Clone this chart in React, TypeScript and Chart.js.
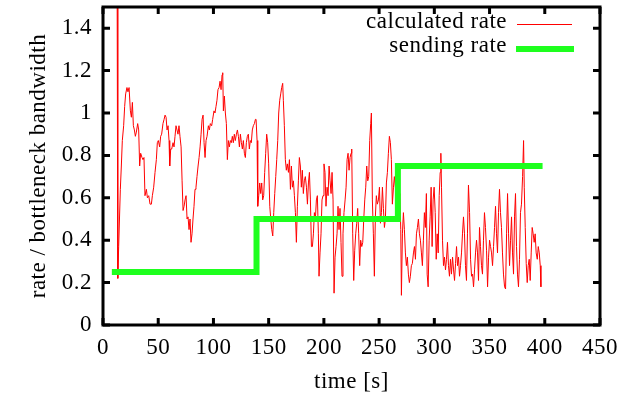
import React, { useEffect, useRef } from "react";
import { Chart, registerables } from "chart.js";

Chart.register(...registerables);

const calcTime: number[] = [
  12.8, 13.4, 14.2, 15.7, 16.6, 17.5, 18.7, 19.6, 20.5, 21.7, 22.6, 23.6, 24.8, 25.7, 26.6, 27.5, 28.4, 29.3, 30.2, 31.4,
  32.3, 33.2, 34.1, 35.3, 36.2, 37.1, 38.0, 39.3, 40.2, 41.4, 42.6, 43.8, 44.7, 45.9, 47.1, 48.3, 49.2, 50.1, 51.3, 52.2,
  53.1, 54.3, 55.3, 56.2, 57.1, 58.0, 58.9, 59.8, 60.4, 61.3, 62.2, 63.4, 64.3, 65.2, 66.1, 67.0, 67.9, 68.8, 69.7, 70.7,
  71.6, 72.5, 73.4, 74.3, 75.2, 76.1, 77.0, 77.9, 78.8, 79.7, 80.6, 81.5, 82.4, 83.3, 84.2, 85.1, 86.1, 87.0, 87.9, 88.8,
  89.7, 90.6, 91.5, 92.4, 93.3, 94.2, 95.4, 96.3, 97.2, 98.4, 99.3, 100.5, 101.4, 102.3, 103.2, 104.1, 105.1, 106.0, 106.9, 107.8,
  108.4, 109.0, 109.9, 110.8, 111.7, 112.6, 113.5, 114.4, 115.3, 116.2, 117.1, 118.0, 118.9, 119.8, 120.8, 121.7, 122.6, 123.5, 124.4, 125.3,
  126.2, 127.1, 128.0, 128.9, 129.8, 130.7, 131.6, 132.5, 133.4, 134.3, 135.2, 136.1, 137.1, 138.0, 138.6, 139.5, 140.1, 141.0, 141.9, 142.8,
  143.7, 144.6, 145.5, 146.4, 147.3, 148.2, 149.1, 150.0, 151.0, 151.9, 152.8, 153.7, 154.6, 155.5, 156.4, 157.3, 158.2, 159.1, 160.0, 160.9,
  161.8, 162.7, 163.3, 164.2, 165.1, 166.0, 166.9, 167.9, 168.8, 169.7, 170.6, 171.5, 172.4, 173.3, 174.2, 175.1, 176.0, 176.9, 177.8, 178.7,
  179.6, 180.5, 181.4, 182.3, 183.2, 184.2, 185.1, 186.0, 186.9, 187.8, 188.7, 189.6, 190.5, 191.4, 192.3, 193.2, 194.1, 195.0, 195.6, 196.5,
  197.4, 198.3, 199.2, 200.1, 201.0, 201.9, 202.9, 203.8, 204.7, 205.6, 206.5, 207.4, 208.3, 209.2, 210.1, 211.0, 211.9, 212.8, 213.7, 214.6,
  215.5, 216.4, 217.3, 218.2, 219.2, 220.1, 221.0, 221.9, 222.8, 223.7, 224.6, 225.2, 226.1, 227.0, 227.9, 228.8, 229.7, 230.6, 231.5, 232.4,
  233.3, 234.3, 235.2, 236.1, 237.0, 237.9, 238.8, 239.7, 240.6, 241.5, 242.4, 243.0, 243.9, 244.8, 245.7, 246.6, 247.5, 248.4, 249.4, 250.3,
  251.2, 252.1, 253.0, 253.9, 254.8, 255.7, 256.6, 257.5, 258.4, 259.3, 260.2, 261.1, 262.0, 263.0, 263.8, 264.7, 266.0, 267.5, 268.8, 269.6,
  270.2, 271.1, 272.0, 272.9, 273.8, 274.7, 275.6, 276.5, 277.4, 278.3, 279.2, 280.1, 281.1, 282.0, 282.9, 283.8, 284.7, 285.6, 286.5, 287.4,
  288.3, 289.2, 290.1, 291.0, 291.9, 292.8, 293.5, 294.4, 295.3, 296.2, 297.1, 298.0, 298.9, 299.8, 300.8, 301.7, 302.6, 303.5, 304.4, 305.3,
  305.9, 306.5, 307.4, 308.3, 309.2, 310.1, 311.0, 311.9, 312.8, 313.7, 314.6, 315.5, 316.5, 317.4, 318.3, 319.2, 320.1, 321.0, 321.9, 322.8,
  323.7, 324.6, 325.5, 326.4, 327.3, 328.2, 329.1, 330.0, 330.9, 331.9, 332.8, 333.7, 334.6, 335.5, 336.4, 337.3, 338.2, 339.1, 340.0, 340.9,
  341.8, 342.7, 343.6, 344.5, 345.4, 346.3, 347.3, 348.2, 349.1, 350.0, 350.9, 351.8, 352.7, 353.6, 354.5, 355.4, 356.3, 357.2, 358.1, 359.0,
  359.9, 360.8, 361.7, 362.6, 363.6, 364.5, 365.4, 366.3, 367.2, 368.1, 369.0, 369.9, 370.8, 371.7, 372.6, 373.5, 374.4, 375.3, 376.2, 377.1,
  378.0, 378.9, 379.9, 380.8, 381.4, 382.3, 383.2, 384.1, 385.0, 385.9, 386.8, 387.7, 388.6, 389.5, 390.4, 391.3, 392.2, 393.2, 394.1, 395.0,
  395.9, 396.5,
];

const calcRate: number[] = [
  1.6, 0.22, 0.37, 0.64, 0.75, 0.87, 0.94, 1.03, 1.09, 1.12, 1.10, 1.12, 1.01, 0.98, 1.05, 0.94, 0.92, 0.89, 0.91, 0.95,
  0.92, 0.75, 0.81, 0.79, 0.78, 0.79, 0.61, 0.64, 0.60, 0.61, 0.57, 0.57, 0.61, 0.65, 0.72, 0.78, 0.86, 0.87, 0.84, 0.89,
  0.90, 0.95, 0.97, 0.99, 0.98, 0.92, 0.94, 0.87, 0.75, 0.83, 0.83, 0.86, 0.84, 0.89, 0.94, 0.94, 0.90, 0.94, 0.89, 0.84,
  0.68, 0.54, 0.56, 0.59, 0.61, 0.50, 0.51, 0.45, 0.50, 0.39, 0.43, 0.50, 0.56, 0.64, 0.65, 0.70, 0.75, 0.79, 0.84, 0.90,
  0.97, 0.99, 0.86, 0.79, 0.87, 0.89, 0.94, 0.92, 0.95, 0.94, 0.97, 1.01, 1.00, 1.03, 1.06, 1.11, 1.12, 1.15, 1.11, 1.18,
  1.19, 1.01, 1.08, 1.00, 0.95, 0.78, 0.87, 0.84, 0.87, 0.86, 0.89, 0.86, 0.90, 0.87, 0.90, 0.92, 0.89, 0.84, 0.90, 0.86,
  0.83, 0.87, 0.81, 0.79, 0.86, 0.89, 0.90, 0.83, 0.87, 0.86, 0.92, 0.94, 0.95, 0.97, 0.97, 0.87, 0.56, 0.61, 0.67, 0.62,
  0.67, 0.59, 0.61, 0.72, 0.81, 0.90, 0.86, 0.76, 0.56, 0.50, 0.45, 0.42, 0.53, 0.62, 0.70, 0.78, 0.87, 1.00, 1.06, 1.09,
  1.12, 1.14, 1.06, 0.94, 0.78, 0.73, 0.76, 0.72, 0.78, 0.64, 0.75, 0.65, 0.68, 0.61, 0.53, 0.39, 0.56, 0.68, 0.79, 0.75,
  0.65, 0.73, 0.62, 0.68, 0.70, 0.65, 0.57, 0.67, 0.72, 0.59, 0.37, 0.37, 0.43, 0.53, 0.50, 0.59, 0.61, 0.43, 0.23, 0.34,
  0.43, 0.59, 0.61, 0.76, 0.72, 0.56, 0.65, 0.61, 0.75, 0.68, 0.62, 0.72, 0.59, 0.15, 0.32, 0.37, 0.43, 0.56, 0.45, 0.55,
  0.39, 0.23, 0.43, 0.53, 0.59, 0.65, 0.78, 0.81, 0.73, 0.79, 0.81, 0.83, 0.43, 0.21, 0.35, 0.43, 0.48, 0.55, 0.43, 0.28,
  0.40, 0.37, 0.39, 0.50, 0.59, 0.65, 0.75, 0.68, 0.70, 0.87, 0.95, 1.00, 0.59, 0.43, 0.23, 0.51, 0.61, 0.57, 0.59, 0.65,
  0.48, 0.53, 0.65, 0.55, 0.46, 0.50, 0.67, 0.72, 0.81, 0.89, 0.86, 0.78, 0.57, 0.65, 0.70, 0.65, 0.60, 0.55, 0.62, 0.45,
  0.14, 0.43, 0.53, 0.45, 0.34, 0.28, 0.32, 0.24, 0.20, 0.23, 0.28, 0.29, 0.34, 0.37, 0.31, 0.43, 0.46, 0.50, 0.43, 0.40,
  0.34, 0.28, 0.40, 0.53, 0.46, 0.62, 0.24, 0.18, 0.40, 0.51, 0.65, 0.37, 0.59, 0.65, 0.53, 0.31, 0.43, 0.34, 0.61, 0.72,
  0.81, 0.65, 0.40, 0.28, 0.32, 0.26, 0.31, 0.39, 0.28, 0.23, 0.31, 0.24, 0.32, 0.26, 0.21, 0.29, 0.37, 0.28, 0.32, 0.23,
  0.28, 0.34, 0.43, 0.51, 0.43, 0.28, 0.21, 0.43, 0.66, 0.53, 0.31, 0.23, 0.24, 0.18, 0.26, 0.34, 0.40, 0.34, 0.21, 0.46,
  0.37, 0.28, 0.24, 0.40, 0.53, 0.46, 0.35, 0.18, 0.32, 0.40, 0.37, 0.34, 0.28, 0.37, 0.46, 0.56, 0.43, 0.34, 0.53, 0.64,
  0.53, 0.46, 0.34, 0.24, 0.18, 0.17, 0.43, 0.62, 0.43, 0.28, 0.40, 0.51, 0.34, 0.24, 0.51, 0.62, 0.37, 0.24, 0.18, 0.31,
  0.53, 0.57, 0.70, 0.87, 0.65, 0.46, 0.29, 0.20, 0.28, 0.31, 0.21, 0.34, 0.46, 0.43, 0.39, 0.43, 0.34, 0.31, 0.37, 0.34,
  0.28, 0.18,
];

const sendTime: number[] = [8, 139, 267, 398];
const sendRate: number[] = [0.25, 0.5, 0.75, 0.75];

const xTicks: number[] = [0, 50, 100, 150, 200, 250, 300, 350, 400, 450];
const yTicks: number[] = [0, 0.2, 0.4, 0.6, 0.8, 1, 1.2, 1.4];

const seriesLabels: string[] = ["calculated rate", "sending rate"];
const xTitle = "time [s]";
const yTitle = "rate / bottleneck bandwidth";

const FONT_FAMILY = "'Liberation Serif', 'DejaVu Serif', serif";
const FONT_SIZE = 23;
const LETTER_SPACING = "0.5px";
const RED = "#ff0000";
const GREEN = "#1eff1e";

const framePlugin = {
  id: "gnuplotFrame",
  beforeDraw(chart: any) {
    chart.ctx.letterSpacing = LETTER_SPACING;
  },
  afterDraw(chart: any) {
    const { ctx, chartArea, scales } = chart;
    const { left, right, top, bottom } = chartArea;
    const xs = scales.x;
    const ys = scales.y;
    ctx.save();
    ctx.strokeStyle = "#000";
    ctx.lineWidth = 3;
    ctx.lineCap = "butt";
    const tl = 7;
    ctx.beginPath();
    for (const v of xTicks) {
      const px = xs.getPixelForValue(v);
      ctx.moveTo(px, bottom);
      ctx.lineTo(px, bottom - tl);
      ctx.moveTo(px, top);
      ctx.lineTo(px, top + tl);
    }
    for (const v of yTicks) {
      const py = ys.getPixelForValue(v);
      ctx.moveTo(left, py);
      ctx.lineTo(left + tl, py);
      ctx.moveTo(right, py);
      ctx.lineTo(right - tl, py);
    }
    ctx.stroke();
    ctx.lineJoin = "miter";
    ctx.strokeRect(left, top, right - left, bottom - top);

    // legend (gnuplot style: text then sample)
    ctx.letterSpacing = LETTER_SPACING;
    ctx.font = `${FONT_SIZE}px ${FONT_FAMILY}`;
    ctx.fillStyle = "#000";
    ctx.textAlign = "right";
    ctx.textBaseline = "middle";
    ctx.fillText(seriesLabels[0], 507, 22);
    ctx.fillText(seriesLabels[1], 507, 46);
    ctx.strokeStyle = RED;
    ctx.lineWidth = 1;
    ctx.beginPath();
    ctx.moveTo(517, 24.5);
    ctx.lineTo(572, 24.5);
    ctx.stroke();
    ctx.strokeStyle = GREEN;
    ctx.lineWidth = 6;
    ctx.beginPath();
    ctx.moveTo(516, 49);
    ctx.lineTo(574, 49);
    ctx.stroke();
    ctx.restore();
  },
};

export default function App() {
  const ref = useRef<HTMLCanvasElement | null>(null);

  useEffect(() => {
    if (!ref.current) return;
    const calcData = calcTime.map((t, i) => ({ x: t, y: calcRate[i] }));
    const sendData = sendTime.map((t, i) => ({ x: t, y: sendRate[i] }));
    const tickFont = { family: FONT_FAMILY, size: FONT_SIZE };
    const chart = new Chart(ref.current, {
      type: "line",
      data: {
        datasets: [
          {
            label: seriesLabels[0],
            data: calcData,
            borderColor: RED,
            borderWidth: 1,
            pointRadius: 0,
            tension: 0,
            order: 1,
          },
          {
            label: seriesLabels[1],
            data: sendData,
            borderColor: GREEN,
            borderWidth: 6,
            pointRadius: 0,
            stepped: true,
            borderJoinStyle: "miter",
            order: 0,
          },
        ],
      },
      options: {
        animation: false,
        responsive: false,
        devicePixelRatio: 1,
        layout: { padding: { left: 0, right: 29, top: 7, bottom: 0 } },
        plugins: { legend: { display: false }, tooltip: { enabled: false } },
        scales: {
          x: {
            type: "linear",
            min: 0,
            max: 450,
            grid: { display: false, drawTicks: false },
            border: { display: false },
            afterBuildTicks: (s: any) => {
              s.ticks = xTicks.map((v) => ({ value: v }));
            },
            ticks: {
              color: "#000",
              font: tickFont,
              padding: 9,
              maxRotation: 0,
              autoSkip: false,
              callback: (v: any) => String(v),
            },
            title: {
              display: true,
              text: xTitle,
              color: "#000",
              font: tickFont,
              padding: { top: 0, bottom: 2 },
            },
            afterFit: (s: any) => {
              s.height = 73;
              s.paddingLeft = 0;
              s.paddingRight = 0;
            },
          },
          y: {
            type: "linear",
            min: 0,
            max: 1.5,
            grid: { display: false, drawTicks: false },
            border: { display: false },
            afterBuildTicks: (s: any) => {
              s.ticks = yTicks.map((v) => ({ value: v }));
            },
            ticks: {
              color: "#000",
              font: tickFont,
              padding: 11,
              autoSkip: false,
              callback: (v: any) => String(Number(Number(v).toFixed(1))),
            },
            title: {
              display: true,
              text: yTitle,
              color: "#000",
              font: tickFont,
              padding: { top: 25, bottom: 0 },
            },
            afterFit: (s: any) => {
              s.width = 103;
              s.paddingTop = 0;
              s.paddingBottom = 0;
            },
          },
        },
      },
      plugins: [framePlugin],
    } as any);
    return () => chart.destroy();
  }, []);

  return (
    <div style={{ position: "absolute", left: 0, top: 0, width: 629, height: 398, background: "#fff" }}>
      <canvas ref={ref} width={629} height={398} style={{ display: "block" }} />
    </div>
  );
}
